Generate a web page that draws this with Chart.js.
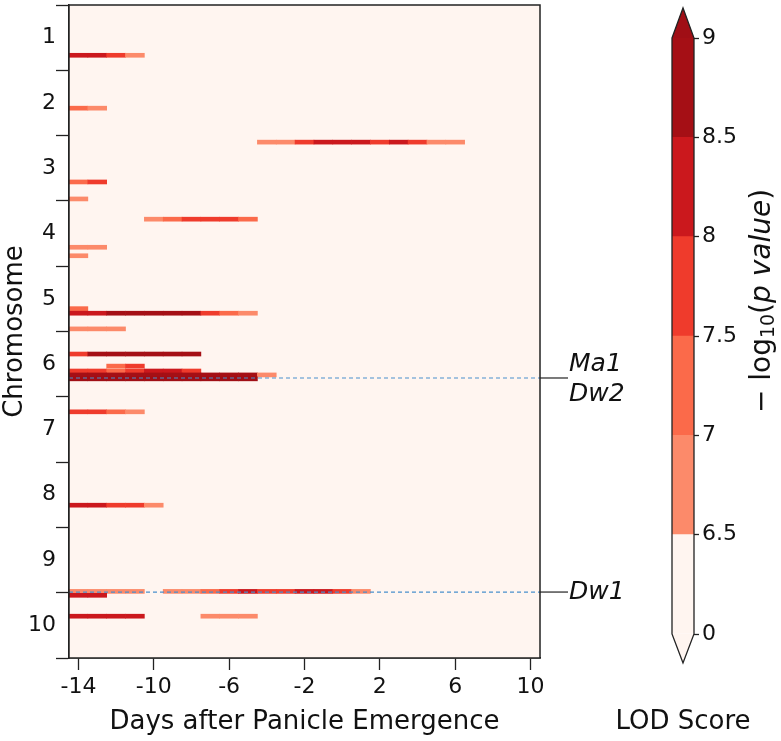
<!DOCTYPE html>
<html>
<head>
<meta charset="utf-8">
<script src="https://cdn.jsdelivr.net/npm/chart.js@4.4.1/dist/chart.umd.min.js"></script>
<style>
  body { margin: 0; background: #fff; }
  #wrap { position: relative; width: 781px; height: 741px; }
  #heat { position: absolute; left: 0; top: 0; }
  #cbar { position: absolute; left: 600px; top: 0; }
</style>
</head>
<body>
<div id="wrap">
  <canvas id="heat" width="781" height="741"></canvas>
  <canvas id="cbar" width="181" height="741"></canvas>
</div>
<script>
const FONT = '"DejaVu Sans", sans-serif';

const chromosomes = ['1', '2', '3', '4', '5', '6', '7', '8', '9', '10'];
const dayTicks = [-14, -10, -6, -2, 2, 6, 10];
const dayRange = [-14.5, 10.5];

// marker rows: position in chromosome units (chr k spans k-1..k), first scored day, daily LOD
const markerPos = [0.77, 1.58, 2.10, 2.71, 2.97, 3.28, 3.71, 3.84, 4.65, 4.72, 4.96,
    5.345, 5.53, 5.605, 5.665, 5.725, 6.23, 7.66, 8.98, 9.04, 9.36, 9.36];
const markerStart = [-14, -14, -4, -14, -14, -10, -14, -14, -14, -14, -14,
    -14, -12, -14, -14, -14, -14, -14, -14, -14, -14, -7];
const markerLod = [
    [8.2, 8.2, 7.7, 6.7],
    [7.2, 6.7],
    [6.7, 6.7, 7.7, 8.2, 8.2, 8.2, 7.7, 8.2, 7.7, 6.7, 6.7],
    [7.2, 7.8],
    [6.7],
    [6.7, 7.2, 7.8, 7.8, 7.7, 7.2],
    [6.7, 6.7],
    [6.7],
    [7.2],
    [8.2, 8.2, 8.7, 8.7, 8.7, 8.7, 8.7, 7.7, 7.2, 6.7],
    [6.7, 6.7, 6.7],
    [7.7, 8.7, 8.7, 8.7, 8.7, 8.7, 8.7],
    [7.2, 7.7],
    [7.7, 7.7, 7.2, 7.7, 8.2, 8.2, 7.7],
    [8.7, 8.7, 8.7, 8.7, 8.7, 8.7, 8.7, 8.7, 8.7, 8.7, 6.7],
    [9.2, 9.2, 9.2, 9.2, 9.2, 9.2, 9.2, 9.2, 9.2, 9.2],
    [7.7, 7.7, 7.2, 6.7],
    [8.2, 8.2, 7.7, 7.7, 6.7],
    [6.7, 6.7, 6.7, 6.7, 0, 6.7, 6.7, 7.2, 7.7, 8.2, 7.7, 7.7, 8.2, 8.2, 7.7, 6.7],
    [8.2, 8.2],
    [8.2, 8.2, 8.2, 8.2],
    [6.7, 6.7, 6.7]
];

const geneNames = [['Ma1', 'Dw2'], ['Dw1']];
const genePos = [5.712, 8.99];

const lodTicks = ['0', '6.5', '7', '7.5', '8', '8.5', '9'];
const lodBounds = [0, 6.5, 7, 7.5, 8, 8.5, 9];
const lodColors = ['#fff5f0', '#fc8a6a', '#fb6a4a', '#ef3b2c', '#cb181d', '#a50f15'];
const overColor = '#a00e15';

function lodColor(v) {
    if (v >= lodBounds[lodBounds.length - 1]) return overColor;
    for (let i = lodBounds.length - 2; i >= 0; i--) {
        if (v >= lodBounds[i]) return lodColors[i];
    }
    return lodColors[0];
}

// one floating bar per scored day
const cells = [];
const cellColors = [];
markerPos.forEach((pos, r) => {
    markerLod[r].forEach((v, k) => {
        if (v < lodBounds[1]) return;
        const day = markerStart[r] + k;
        cells.push({ x: [day - 0.5, day + 0.5], y: pos });
        cellColors.push(lodColor(v));
    });
});

function noPad(s) {
    s.paddingTop = 0;
    s.paddingBottom = 0;
    s.paddingLeft = 0;
    s.paddingRight = 0;
}

const heatFrame = {
    id: 'heatFrame',
    beforeDatasetsDraw(chart) {
        const { ctx, chartArea: a } = chart;
        ctx.save();
        ctx.fillStyle = lodColors[0];
        ctx.fillRect(a.left, a.top, a.right - a.left, a.bottom - a.top);
        ctx.restore();
    },
    afterDraw(chart) {
        const { ctx, chartArea: a, scales: { y } } = chart;
        ctx.save();
        ctx.strokeStyle = '#222';
        ctx.lineWidth = 1.5;
        ctx.strokeRect(a.left, a.top, a.right - a.left, a.bottom - a.top);
        ctx.font = 'italic 25px ' + FONT;
        ctx.fillStyle = '#111';
        ctx.textBaseline = 'middle';
        ctx.lineWidth = 1.2;
        genePos.forEach((p, i) => {
            const py = y.getPixelForValue(p);
            ctx.beginPath();
            ctx.moveTo(a.right, py);
            ctx.lineTo(a.right + 28, py);
            ctx.stroke();
            const names = geneNames[i];
            names.forEach((n, j) => {
                const off = (j - (names.length - 1) / 2) * 30 + (names.length > 1 ? 2 : 0);
                ctx.fillText(n, a.right + 29, py + off);
            });
        });
        ctx.restore();
    }
};

new Chart(document.getElementById('heat'), {
    type: 'bar',
    data: {
        datasets: [
            ...genePos.map(p => ({
                type: 'line',
                data: [{ x: dayRange[0], y: p }, { x: dayRange[1], y: p }],
                borderColor: '#4a90cc',
                borderWidth: 1.2,
                borderDash: [4, 3],
                pointRadius: 0,
                order: 0
            })),
            {
                data: cells,
                backgroundColor: cellColors,
                borderWidth: 0,
                barThickness: 4,
                order: 1
            }
        ]
    },
    options: {
        indexAxis: 'y',
        responsive: false,
        animation: false,
        layout: { padding: { left: 0, top: 5, right: 241, bottom: 0 } },
        plugins: { legend: { display: false }, tooltip: { enabled: false } },
        scales: {
            x: {
                type: 'linear',
                min: dayRange[0],
                max: dayRange[1],
                offset: false,
                afterBuildTicks: s => { s.ticks = dayTicks.map(v => ({ value: v })); },
                afterFit: s => { s.height = 83; noPad(s); },
                grid: { drawOnChartArea: false, offset: false, tickLength: 12, tickWidth: 1.3, tickColor: '#222' },
                border: { color: '#222', width: 1.5 },
                ticks: { font: { family: FONT, size: 22 }, color: '#111', padding: 4, callback: v => String(v) },
                title: {
                    display: true, text: 'Days after Panicle Emergence',
                    font: { family: FONT, size: 26 }, color: '#111', padding: { top: 0, bottom: 3 }
                }
            },
            y: {
                type: 'linear',
                reverse: true,
                min: 0,
                max: chromosomes.length,
                offset: false,
                afterBuildTicks: s => {
                    s.ticks = Array.from({ length: chromosomes.length * 2 + 1 }, (_, i) => ({ value: i / 2 }));
                },
                afterFit: s => { s.width = 69; noPad(s); },
                grid: {
                    drawOnChartArea: false, offset: false, tickLength: 13, tickWidth: 1.3,
                    tickColor: c => (c.tick && Number.isInteger(c.tick.value)) ? '#222' : 'rgba(0,0,0,0)'
                },
                border: { color: '#222', width: 1.5 },
                ticks: {
                    autoSkip: false,
                    font: { family: FONT, size: 22 }, color: '#111', padding: 0,
                    callback: v => Number.isInteger(v) ? '' : chromosomes[Math.floor(v)]
                },
                title: {
                    display: true, text: 'Chromosome',
                    font: { family: FONT, size: 26 }, color: '#111', padding: { top: 0, bottom: 0 }
                }
            }
        }
    },
    plugins: [heatFrame]
});

// colorbar
const cbarOutline = {
    id: 'cbarOutline',
    afterDatasetsDraw(chart) {
        const { ctx, chartArea: a } = chart;
        const cx = (a.left + a.right) / 2;
        ctx.save();
        ctx.fillStyle = overColor;
        ctx.beginPath();
        ctx.moveTo(a.left, a.top); ctx.lineTo(cx, a.top - 30); ctx.lineTo(a.right, a.top);
        ctx.closePath(); ctx.fill();
        ctx.fillStyle = lodColors[0];
        ctx.beginPath();
        ctx.moveTo(a.left, a.bottom); ctx.lineTo(cx, a.bottom + 29); ctx.lineTo(a.right, a.bottom);
        ctx.closePath(); ctx.fill();
        ctx.strokeStyle = '#222';
        ctx.lineWidth = 1.3;
        ctx.beginPath();
        ctx.moveTo(a.left, a.top); ctx.lineTo(cx, a.top - 30); ctx.lineTo(a.right, a.top);
        ctx.lineTo(a.right, a.bottom); ctx.lineTo(cx, a.bottom + 29); ctx.lineTo(a.left, a.bottom);
        ctx.closePath(); ctx.stroke();

        // bottom label
        ctx.fillStyle = '#111';
        ctx.font = '26px ' + FONT;
        ctx.textAlign = 'center';
        ctx.textBaseline = 'middle';
        ctx.fillText('LOD Score', cx, 722);

        // rotated label: − log10(p value)
        const pieces = [
            { t: '\u2212 log', f: '28px ' + FONT, dy: 0 },
            { t: '10', f: '19px ' + FONT, dy: 6 },
            { t: '(', f: '28px ' + FONT, dy: 0 },
            { t: 'p value', f: 'italic 28px ' + FONT, dy: 0 },
            { t: ')', f: '28px ' + FONT, dy: 0 }
        ];
        let total = 0;
        pieces.forEach(p => { ctx.font = p.f; p.w = ctx.measureText(p.t).width; total += p.w; });
        ctx.translate(a.right + 69, 301);
        ctx.rotate(-Math.PI / 2);
        ctx.textAlign = 'left';
        let x = -total / 2;
        pieces.forEach(p => { ctx.font = p.f; ctx.fillText(p.t, x, p.dy); x += p.w; });
        ctx.restore();
    }
};

new Chart(document.getElementById('cbar'), {
    type: 'bar',
    data: {
        labels: [''],
        datasets: lodColors.map((c, i) => ({
            data: [[i, i + 1]],
            backgroundColor: c,
            borderWidth: 0,
            grouped: false,
            barPercentage: 1,
            categoryPercentage: 1
        }))
    },
    options: {
        responsive: false,
        animation: false,
        layout: { padding: { left: 72, top: 38, right: 0, bottom: 0 } },
        plugins: { legend: { display: false }, tooltip: { enabled: false } },
        scales: {
            x: {
                type: 'category',
                afterFit: s => { s.height = 107; noPad(s); },
                grid: { display: false },
                border: { display: false },
                ticks: { display: false }
            },
            y: {
                type: 'linear',
                position: 'right',
                min: 0,
                max: lodTicks.length - 1,
                afterBuildTicks: s => { s.ticks = lodTicks.map((_, i) => ({ value: i })); },
                afterFit: s => { s.width = 87; noPad(s); },
                grid: { drawOnChartArea: false, tickLength: 5, tickWidth: 1.3, tickColor: '#222' },
                border: { display: false },
                ticks: {
                    font: { family: FONT, size: 22 }, color: '#111', padding: 3,
                    callback: v => lodTicks[v]
                }
            }
        }
    },
    plugins: [cbarOutline]
});
</script>
</body>
</html>
